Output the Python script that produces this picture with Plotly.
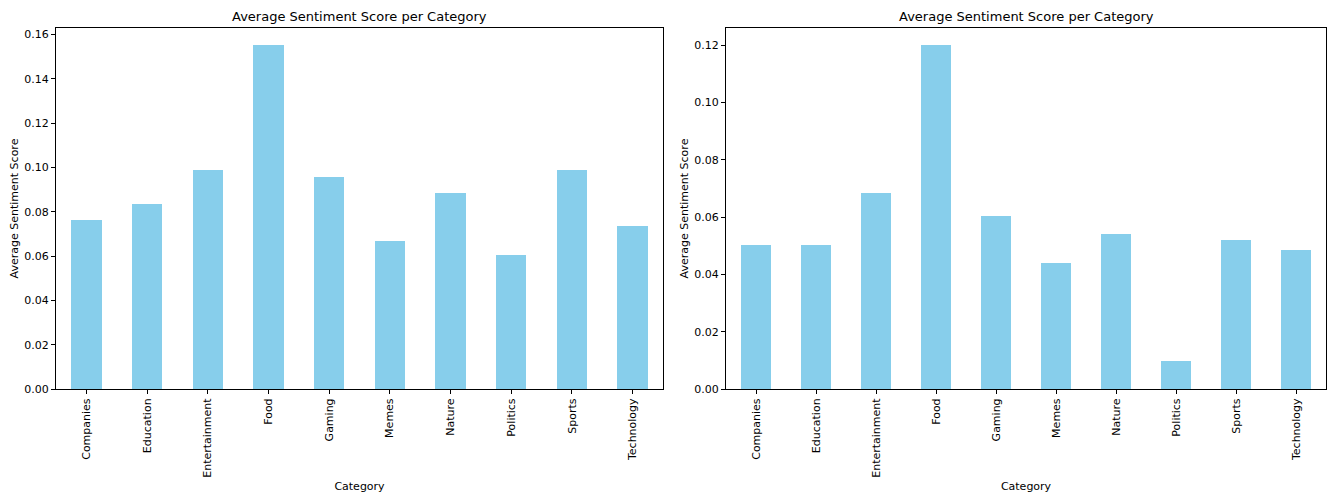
import plotly.graph_objects as go
from plotly.subplots import make_subplots

categories = ["Companies", "Education", "Entertainment", "Food", "Gaming",
              "Memes", "Nature", "Politics", "Sports", "Technology"]
left_values = [0.0762, 0.0836, 0.0988, 0.1552, 0.0956, 0.0669, 0.0886, 0.0606, 0.0988, 0.0737]
right_values = [0.0503, 0.0501, 0.0685, 0.1200, 0.0605, 0.0441, 0.0540, 0.0098, 0.0521, 0.0484]
left_ticks = [0.00, 0.02, 0.04, 0.06, 0.08, 0.10, 0.12, 0.14, 0.16]
right_ticks = [0.00, 0.02, 0.04, 0.06, 0.08, 0.10, 0.12]
title_text = "Average Sentiment Score per Category"

W, H = 1327, 493
BAR = "#87CEEB"
FONT = "DejaVu Sans"

fig = make_subplots(rows=1, cols=2)
xs = list(range(len(categories)))
fig.add_trace(go.Bar(x=xs, y=left_values, width=0.5, marker_color=BAR,
                     marker_line_width=0, showlegend=False), row=1, col=1)
fig.add_trace(go.Bar(x=xs, y=right_values, width=0.5, marker_color=BAR,
                     marker_line_width=0, showlegend=False), row=1, col=2)

ybot = (H - 389) / H
ytop = (H - 28) / H
doms = [(56 / W, 663 / W), (726 / W, 1326 / W)]
ranges = [[0, max(left_values) * 1.05], [0, max(right_values) * 1.05]]
ticks = [left_ticks, right_ticks]

for i in range(2):
    xa = "xaxis" if i == 0 else "xaxis2"
    ya = "yaxis" if i == 0 else "yaxis2"
    fig.layout[xa].update(
        domain=list(doms[i]), range=[-0.5, len(categories) - 0.5], automargin=False,
        tickmode="array", tickvals=xs, ticktext=categories, tickangle=-90,
        ticks="outside", ticklen=4, tickcolor="black", tickwidth=1,
        showline=True, linecolor="black", linewidth=1, mirror=True,
        showgrid=False, zeroline=False,
        tickfont=dict(family=FONT, size=11, color="black"),
        title=dict(text="Category", font=dict(family=FONT, size=11, color="black"), standoff=8),
    )
    fig.layout[ya].update(
        domain=[ybot, ytop], range=ranges[i], automargin=False,
        tickmode="array", tickvals=ticks[i], ticktext=[f"{t:.2f}" for t in ticks[i]],
        ticks="outside", ticklen=4, tickcolor="black", tickwidth=1,
        showline=True, linecolor="black", linewidth=1, mirror=True,
        showgrid=False, zeroline=False,
        tickfont=dict(family=FONT, size=11, color="black"),
        title=dict(text="Average Sentiment Score", font=dict(family=FONT, size=11, color="black"), standoff=3),
    )
    fig.add_annotation(
        text=title_text, x=(doms[i][0] + doms[i][1]) / 2, y=ytop, xref="paper", yref="paper",
        xanchor="center", yanchor="bottom", yshift=2, showarrow=False,
        font=dict(family=FONT, size=13, color="black"),
    )

fig.update_layout(
    width=W, height=H, margin=dict(l=0, r=0, t=0, b=0),
    paper_bgcolor="white", plot_bgcolor="white", bargap=0,
)

fig.write_html("out.html", config={"displayModeBar": False},
               post_script="document.body.style.margin='0';document.body.style.overflow='hidden';")
